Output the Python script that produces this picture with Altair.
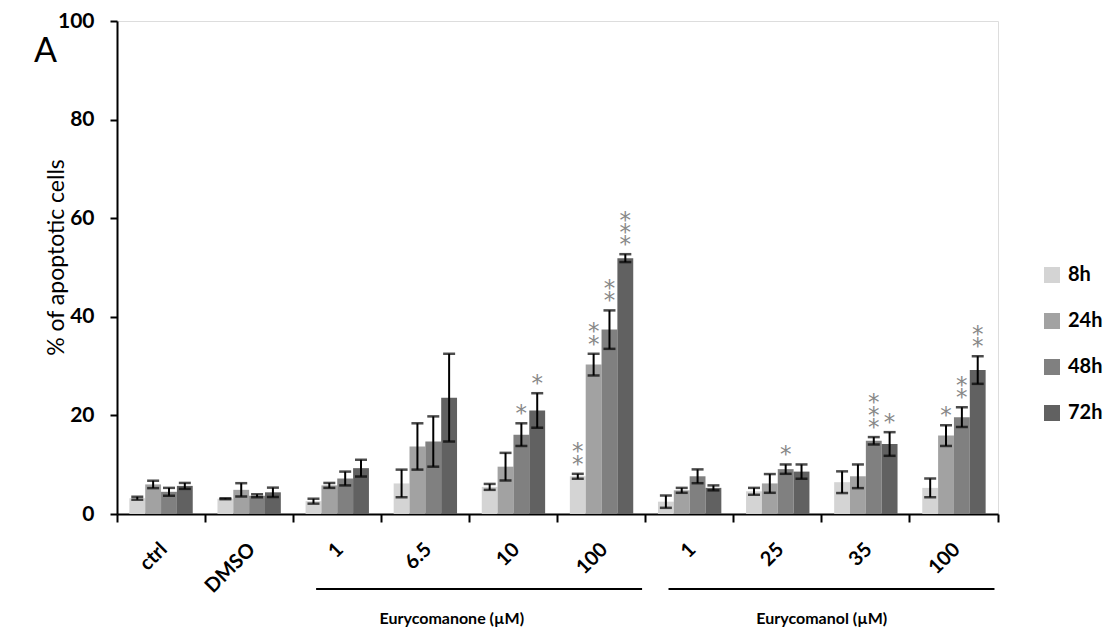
import altair as alt
import pandas as pd

# ---------------- data ----------------
cat_keys = ["ctrl", "DMSO", "E1", "E6.5", "E10", "E100", "O1", "O25", "O35", "O100"]
cat_labels = ["ctrl", "DMSO", "1", "6.5", "10", "100", "1", "25", "35", "100"]
times = ["8h", "24h", "48h", "72h"]

mean_8h = [3.2, 3.1, 2.6, 6.2, 5.5, 7.65, 2.5, 4.6, 6.45, 5.3]
sd_8h = [0.3, 0.1, 0.5, 2.8, 0.6, 0.5, 1.25, 0.7, 2.2, 1.9]
mean_24h = [6.0, 4.9, 5.8, 13.7, 9.6, 30.3, 4.8, 6.2, 7.65, 15.9]
sd_24h = [0.75, 1.35, 0.5, 4.7, 2.8, 2.2, 0.5, 1.9, 2.4, 2.1]
mean_48h = [4.5, 3.7, 7.2, 14.7, 16.1, 37.4, 7.65, 9.1, 14.85, 19.65]
sd_48h = [0.8, 0.3, 1.4, 5.1, 2.3, 3.9, 1.4, 0.95, 0.75, 2.0]
mean_72h = [5.7, 4.4, 9.3, 23.6, 21.0, 51.9, 5.3, 8.6, 14.2, 29.2]
sd_72h = [0.6, 0.95, 1.7, 8.9, 3.5, 0.8, 0.5, 1.45, 2.4, 2.8]

sig_8h = ["", "", "", "", "", "**", "", "", "", ""]
sig_24h = ["", "", "", "", "", "**", "", "", "", "*"]
sig_48h = ["", "", "", "", "*", "**", "", "*", "***", "**"]
sig_72h = ["", "", "", "", "*", "***", "", "", "*", "**"]

group_names = ["Eurycomanone (µM)", "Eurycomanol (µM)"]
group_first = ["E1", "O1"]
group_last = ["E100", "O100"]
group_label_shift = [-0.2, 0.0]

colors = ["#d4d4d4", "#a2a2a2", "#808080", "#616161"]

means = [mean_8h, mean_24h, mean_48h, mean_72h]
sds = [sd_8h, sd_24h, sd_48h, sd_72h]
sigs = [sig_8h, sig_24h, sig_48h, sig_72h]

W, H = 881, 493
FONT = "Lato"
STAR_STEP = 2.5  # vertical spacing between stacked asterisks, in axis units
STAR_LH = STAR_STEP * H / 100.0

rows, srows = [], []
for t, m, s, g in zip(times, means, sds, sigs):
    for i, k in enumerate(cat_keys):
        rows.append({"cat": k, "time": t, "mean": m[i], "lo": m[i] - s[i], "hi": m[i] + s[i]})
        if g[i]:
            srows.append({"cat": k, "time": t, "hi": m[i] + s[i], "n": len(g[i]),
                          "s": "\n".join(list(g[i]))})
df = pd.DataFrame(rows)
sdf = pd.DataFrame(srows)

grows = []
for name, a, b, sh in zip(group_names, group_first, group_last, group_label_shift):
    ia, ib = cat_keys.index(a), cat_keys.index(b) + 1
    grows.append({"name": name, "x0": ia + 0.26, "x1": ib - 0.04, "xc": (ia + ib) / 2 + sh})
gdf = pd.DataFrame(grows)

label_expr = "{" + ",".join(f"'{k}':'{l}'" for k, l in zip(cat_keys, cat_labels)) + "}[datum.value]"

x_scale = alt.Scale(paddingInner=0, paddingOuter=0)
x_main = alt.X("cat:N", sort=cat_keys, scale=x_scale,
               axis=alt.Axis(title=None, labelExpr=label_expr, labelAngle=-45,
                             labelAlign="right", labelBaseline="middle",
                             labelFont=FONT, labelFontWeight="bold", labelFontSize=20,
                             labelColor="black", labelPadding=24, labelOffset=3,
                             bandPosition=1, tickExtra=True, tickSize=8, tickWidth=2,
                             tickColor="black", domainColor="black", domainWidth=2,
                             grid=False))
x_plain = alt.X("cat:N", sort=cat_keys, scale=x_scale)
xo = alt.XOffset("time:N", sort=times, scale=alt.Scale(paddingInner=0, paddingOuter=0.78))
y_scale = alt.Scale(domain=[0, 100])

bars = alt.Chart(df).mark_bar().encode(
    x=x_main, xOffset=xo,
    y=alt.Y("mean:Q", scale=y_scale,
            axis=alt.Axis(title="% of apoptotic cells", values=[0, 20, 40, 60, 80, 100],
                          labelFont=FONT, labelFontWeight="bold", labelFontSize=21,
                          labelColor="black", labelPadding=16, tickSize=7, tickWidth=2,
                          tickColor="black", domainColor="black", domainWidth=2,
                          grid=False, titleFont=FONT, titleFontWeight="normal",
                          titleFontSize=23, titleColor="black", titleX=-61, titleY=236,
                          titleAngle=-90, titleAlign="center", titleBaseline="middle")),
    color=alt.Color("time:N", sort=times, scale=alt.Scale(domain=times, range=colors),
                    legend=alt.Legend(title=None, orient="none", legendX=925, legendY=244,
                                      symbolType="square", symbolSize=256,
                                      symbolStrokeWidth=0, labelFont=FONT,
                                      labelFontWeight="bold", labelFontSize=20,
                                      labelColor="black", rowPadding=26,
                                      labelOffset=6)),
)

err = alt.Chart(df).mark_rule(color="black", strokeWidth=2).encode(
    x=x_plain, xOffset=xo, y=alt.Y("lo:Q", scale=y_scale), y2="hi:Q")

cap_lo = alt.Chart(df).mark_tick(color="black", thickness=2.5, size=12, orient="horizontal").encode(
    x=x_plain, xOffset=xo, y=alt.Y("lo:Q", scale=y_scale))
cap_hi = alt.Chart(df).mark_tick(color="black", thickness=2.5, size=12, orient="horizontal").encode(
    x=x_plain, xOffset=xo, y=alt.Y("hi:Q", scale=y_scale))

# one multi-line text per stack; anchored at the top asterisk, lines run downward
stars = alt.Chart(sdf).transform_calculate(
    ys=f"datum.hi + (datum.n - 1) * {STAR_STEP}").mark_text(
    font="DejaVu Sans", fontSize=23, color="#888888", baseline="bottom", dy=3,
    lineBreak="\n", lineHeight=STAR_LH).encode(
    x=x_plain, xOffset=xo, y=alt.Y("ys:Q", scale=y_scale), text="s:N")

inner = alt.layer(bars, err, cap_lo, cap_hi, stars)

gx = alt.Scale(domain=[0, len(cat_keys)], range=[0, W])
glines = alt.Chart(gdf).mark_rule(color="black", strokeWidth=2).encode(
    x=alt.X("x0:Q", scale=gx, axis=None), x2="x1:Q",
    y=alt.value(H + 75))
gtext = alt.Chart(gdf).mark_text(font=FONT, fontWeight="bold", fontSize=16,
                                 color="black", baseline="alphabetic").encode(
    x=alt.X("xc:Q", scale=gx, axis=None), y=alt.value(H + 110), text="name:N")

letter = alt.Chart(pd.DataFrame({"t": ["A"]})).mark_text(
    font=FONT, fontSize=34, color="black", align="left", baseline="alphabetic").encode(
    x=alt.value(-83), y=alt.value(41), text="t:N")

chart = alt.layer(inner, glines, gtext, letter).resolve_scale(
    x="independent").properties(
    width=W, height=H,
    autosize=alt.AutoSizeParams(type="none"),
    padding={"left": 117, "top": 21, "right": 111, "bottom": 119},
).configure_view(stroke=None).configure(background="white")

chart.save("out.html", embed_options={"renderer": "svg", "actions": False})
